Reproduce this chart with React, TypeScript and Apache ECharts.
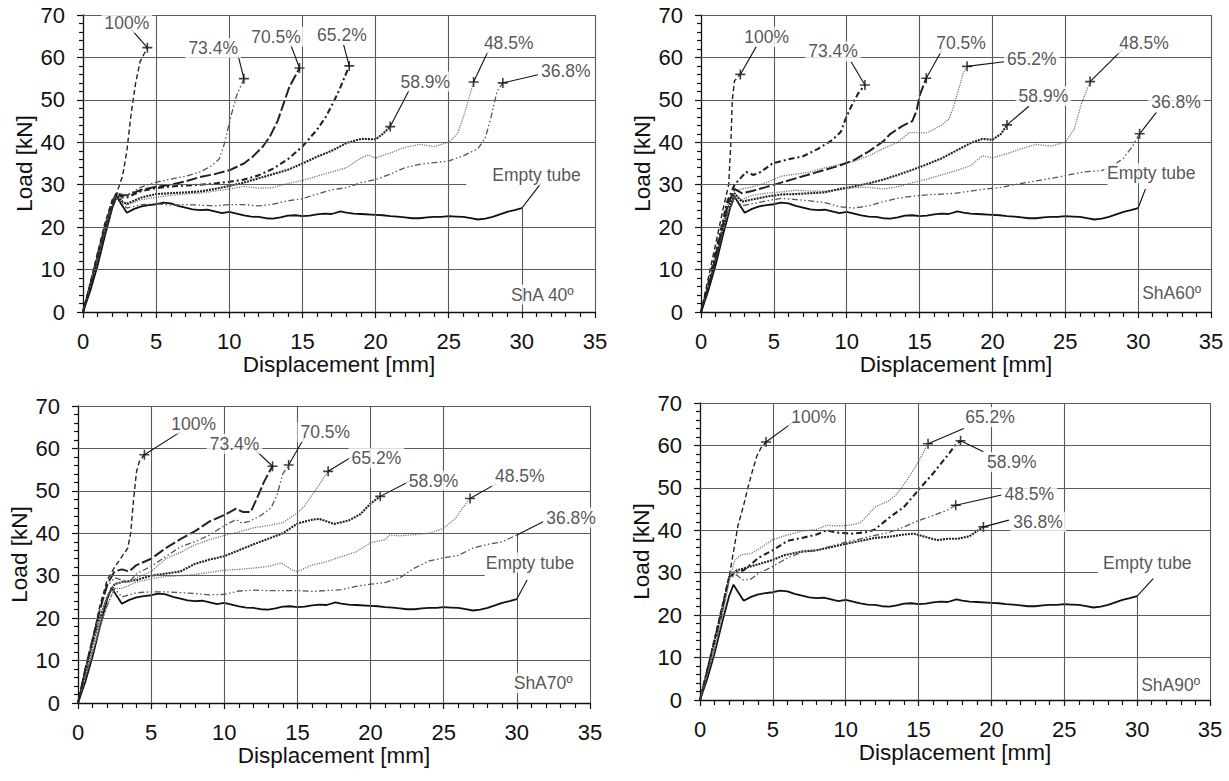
import React, { useEffect, useRef } from "react";
import * as echarts from "echarts";

type Pt = [number, number];

// ---------------- DATA ----------------
const X_RANGE = [0, 35];
const X_STEP = 5;
const Y_RANGE = [0, 70];
const Y_STEP = 10;
const PANEL_TITLES = ["ShA 40º", "ShA60º", "ShA70º", "ShA90º"];
const SERIES_NAMES = ["Empty tube", "36.8%", "48.5%", "58.9%", "65.2%", "70.5%", "73.4%", "100%"];

const EMPTY_TUBE: Pt[] = [[0,0],[0.5,5],[1,11],[1.5,18],[2,24.5],[2.3,27.2],[2.6,25.5],[3,23.4],[3.5,24.3],[4,24.9],[4.5,25.2],[5,25.4],[5.5,25.8],[6,25.6],[6.5,25],[7,24.6],[7.5,24.2],[8,24],[8.5,24.1],[9,23.7],[9.5,23.3],[10,23.6],[10.5,23.2],[11,22.8],[11.5,22.5],[12,22.4],[12.5,22.1],[13,22],[13.5,22.3],[14,22.7],[14.5,22.8],[15,22.6],[15.5,22.7],[16,23],[16.5,23.2],[17,23.1],[17.6,23.7],[18,23.4],[18.5,23.2],[19,23.1],[20,22.9],[20.5,22.8],[21,22.6],[21.5,22.5],[22,22.3],[22.5,22.1],[23,22.1],[23.5,22.3],[24,22.4],[24.5,22.4],[25,22.6],[25.5,22.5],[26,22.4],[26.5,22.1],[27,21.8],[27.5,22],[28,22.4],[28.5,23],[29,23.6],[29.5,24],[30,24.5]];

// ShA 40º
const SHA40_368: Pt[] = [[0,0],[0.5,6],[1,12.5],[1.5,19],[2,25],[2.3,27],[2.7,25.5],[3,24.5],[4,25.3],[5,25.5],[6,25.2],[7,25.3],[8,25.2],[9,25],[10,25.3],[11,25.3],[12,25],[13,25.4],[14,26.2],[15,26.7],[16,27.8],[17,28.8],[18,29.3],[19,30.5],[20,31.2],[21,32.5],[22,34],[23,34.8],[24,35.2],[25,35.6],[26,36.8],[27,38.5],[27.5,41],[27.9,46],[28.3,52],[28.7,54]];
const SHA40_485: Pt[] = [[0,0],[0.5,6],[1,12.5],[1.5,19],[2,25],[2.3,27.5],[2.7,26],[3,25.2],[4,26.5],[5,27],[6,27.5],[7,27.8],[8,28],[9,28.5],[10,29],[11,29.6],[12,29.2],[13,29.3],[14,30.3],[15,31],[16,32],[17,33],[18,34],[19,36.3],[19.5,37],[20,36.3],[21,37.5],[22,38.8],[23,39.5],[24,39],[25,40],[25.6,42],[26.1,47],[26.7,54.2]];
const SHA40_589: Pt[] = [[0,0],[0.5,6],[1,13],[1.5,19.5],[2,25],[2.3,27.5],[2.7,26],[3,25.5],[4,27],[5,27.8],[6,28],[7,28.2],[8,28.4],[9,29],[10,29.7],[11,30.5],[12,31.5],[13,32.5],[14,33.5],[15,35],[16,36.6],[17,38],[18,39.8],[19,40.8],[20,40.7],[20.5,42],[21,43.7]];
const SHA40_652: Pt[] = [[0,0],[0.5,6],[1,13],[1.5,20],[2,25.5],[2.3,28],[2.7,27],[3,27],[4,28.5],[5,29.2],[6,29.6],[7,29.8],[8,30],[9,30.3],[10,30.7],[11,31.2],[12,32.2],[13,33.8],[14,36],[15,39],[16,43],[16.6,46],[17.2,50],[17.6,53],[18.2,58]];
const SHA40_705: Pt[] = [[0,0],[0.5,6.5],[1,13.5],[1.5,20],[2,26],[2.3,28],[2.7,27.5],[3,27.5],[4,28.8],[5,29.5],[6,30],[7,30.8],[8,31.8],[9,32.5],[10,33.4],[11,35],[11.6,36.6],[12.3,39],[12.8,41.5],[13.3,45],[13.7,49],[14.1,53],[14.8,57.5]];
const SHA40_734: Pt[] = [[0,0],[0.5,6.5],[1,13.5],[1.5,20],[2,26],[2.3,28],[2.7,27.8],[3,27.5],[4,29.5],[5,30.6],[6,31.3],[7,32],[8,33],[8.8,34.5],[9.3,36],[9.7,40],[10.1,46],[10.5,51],[11,55]];
const SHA40_100: Pt[] = [[0,0],[0.5,7],[1,14],[1.5,21],[2,26.5],[2.3,28],[2.7,32],[3,38],[3.3,47],[3.6,54],[3.9,59],[4.4,62.3]];

// ShA 60º
const SHA60_368: Pt[] = [[0,0],[0.6,7],[1.2,15],[1.8,23],[2.3,27],[2.8,25],[3.5,25.5],[4.5,26.2],[5.5,26.8],[6.5,26.5],[7.5,26.2],[8.5,25.8],[9.5,24.8],[10.5,24.5],[11.5,25],[12.5,26],[13.5,26.8],[14.5,27.3],[15.5,27.6],[16.5,27.8],[17.5,28],[18.5,28.5],[19.5,29],[20.5,29.3],[21.5,30],[22.5,30.6],[23.5,31.2],[24.5,31.8],[25.5,32.5],[26.5,33.1],[27.5,33.3],[28.3,34.5],[29,36.3],[29.6,39],[30.1,42]];
const SHA60_485: Pt[] = [[0,0],[0.6,7],[1.2,15],[1.8,23],[2.3,27.5],[2.8,26.5],[3.5,27.5],[4.5,28],[5.5,28.3],[6.5,28.7],[7.5,28.5],[8.5,28.5],[9.5,28.8],[10.5,29.3],[11.5,29.4],[12.5,29],[13.5,29.5],[14.5,30.5],[15.5,31.3],[16.5,32.3],[17.5,33.3],[18.5,34.5],[19.3,36.8],[20,36.3],[21,37.3],[22,38.5],[23,39.5],[24,39.1],[25,40],[25.6,43],[26.1,49],[26.7,54.3]];
const SHA60_589: Pt[] = [[0,0],[0.6,7],[1.2,15],[1.8,24],[2.3,28],[2.8,26],[3.5,26.5],[4.5,27.2],[5.5,27.7],[6.5,27.8],[7.5,28],[8.5,28.2],[9.5,29],[10.5,29.6],[11.5,30.3],[12.5,31.2],[13.5,32.3],[14.5,33.5],[15.5,34.8],[16.5,36.2],[17.5,38],[18.5,39.8],[19.3,40.8],[20,40.6],[20.6,42],[21,44.1]];
const SHA60_652: Pt[] = [[0,0],[0.6,8],[1.2,17],[1.8,25],[2.3,28.5],[2.8,29],[3.5,29.5],[4.5,30.5],[5.5,32],[6.5,32.5],[7.5,33],[8.5,34],[9.5,34.8],[10.5,35.5],[11.5,36.8],[12.5,38.5],[13.5,40],[14.3,42.3],[15.5,42.2],[16.5,44],[17,45.5],[17.3,48],[17.6,51.6],[18,56.3],[18.26,57.9]];
const SHA60_705: Pt[] = [[0,0],[0.6,7],[1.2,16],[1.8,25],[2.3,29],[2.8,28],[3.5,28.5],[4.5,29.5],[5.5,30.5],[6.5,31.5],[7.5,32.5],[8.5,33.5],[9.5,34.5],[10.5,35.8],[11.5,37.8],[12.5,40.2],[13,42],[13.8,43.8],[14.5,45],[14.8,47.5],[15,51],[15.46,55.1]];
const SHA60_734: Pt[] = [[0,0],[0.6,8],[1.2,17],[1.8,26],[2.3,30],[2.7,31.5],[3.1,33],[3.6,32.3],[4.1,33],[4.9,35],[6,36],[7,36.7],[8,38.4],[9,40.5],[9.6,42.5],[9.9,45.3],[10.3,48.4],[10.8,51.6],[11.25,53.5]];
const SHA60_100: Pt[] = [[0,0],[0.5,8],[1,16],[1.5,24],[1.9,30],[2.05,40],[2.15,50],[2.3,54.5],[2.7,56]];

// ShA 70º
const SHA70_368: Pt[] = [[0,0],[0.5,6],[1,12],[1.5,18],[2,23],[2.5,27],[3,25],[3.5,25.5],[4,26],[5,26.2],[6,26.2],[7,26],[8,25.8],[9,25.5],[10,25.6],[11,26.4],[12,26.6],[13,26.5],[14,26.5],[15,26.5],[16,26.3],[17,26.5],[18,26.7],[19,27.5],[20,28],[21,28.4],[22,29.5],[23,31.8],[24,33.5],[25,34.2],[26,34.8],[27,36.5],[28,37.4],[29,38],[30,39.6]];
const SHA70_485: Pt[] = [[0,0],[0.5,6],[1,12],[1.5,18],[2,23],[2.5,27],[3,27],[4,28.5],[5,29.3],[6,29.8],[7,30],[8,30.3],[9,30.8],[10,31.3],[11,31.5],[12,31.8],[13,32.2],[13.9,33],[14.6,31.4],[15,31],[16,32.5],[17,33.3],[18,34.5],[19,35.6],[20,37.8],[21,38.5],[21.3,39.6],[22,39.4],[23,39.7],[24,40],[25,41.2],[25.8,43.5],[26.3,46],[26.8,48.2]];
const SHA70_589: Pt[] = [[0,0],[0.5,7],[1,14],[1.5,20],[2,25],[2.5,28],[3,28.5],[4,29],[5,30],[6,30.5],[7,31],[8,32.8],[9,33.8],[10,34.6],[11,36],[12,37.4],[13,38.7],[14,40],[15,42.3],[16,43.2],[16.5,43.4],[17.5,42.2],[18.5,43],[19.3,44.5],[20,47],[20.66,48.7]];
const SHA70_652: Pt[] = [[0,0],[0.5,7],[1,14],[1.5,20],[2,25],[2.5,28],[3,28.5],[3.5,28.5],[4,29.5],[5,31],[6,34],[7,35.5],[8,37.3],[9,38.5],[10,39.5],[11,40.3],[12,41.3],[13,41.8],[14,42.5],[15,44.8],[15.5,46.5],[16,49],[16.5,51.5],[17.1,54.6]];
const SHA70_705: Pt[] = [[0,0],[0.5,8],[1,15],[1.5,22],[2,27.5],[2.5,29.5],[3,29],[3.5,28.5],[4,30.5],[5,32.2],[6,34.5],[7,36.8],[8,38],[9,39.6],[10,41.8],[10.8,43.2],[11.2,42.4],[11.7,42.8],[12.5,44.2],[13.2,46],[13.6,49],[14,54],[14.4,56.1]];
const SHA70_734: Pt[] = [[0,0],[0.5,8],[1,15],[1.5,22],[2,28],[2.5,31],[3,31.5],[3.5,31],[4,32.5],[5,34],[6,36.5],[7,38.6],[8,40.5],[9,42.8],[10,44.3],[10.8,45.8],[11.3,45],[11.8,45],[12.2,48],[12.7,52],[13,54],[13.3,55.8]];
const SHA70_100: Pt[] = [[0,0],[0.5,8],[1,15],[1.5,23],[2,29],[2.5,32],[3,34.5],[3.4,36.5],[3.6,40],[3.8,48],[4,54.5],[4.2,57],[4.54,58.5]];

// ShA 90º
const SHA90_368: Pt[] = [[0,0],[0.5,7],[1,14],[1.5,21],[2,29],[2.5,30.5],[3,31],[3.5,31.5],[4,32],[5,33],[5.75,34.1],[7,35],[8,35.3],[8.7,35.8],[10,36.8],[11,37.5],[12,38.2],[13,38.5],[14,39],[14.7,39.2],[15.5,38.4],[16.3,37.7],[17,38],[17.7,38],[18.5,38.6],[19,39.8],[19.45,40.8]];
const SHA90_485: Pt[] = [[0,0],[0.5,6],[1,12],[1.5,20],[2,28.5],[2.5,29.5],[3,28.2],[3.5,28.5],[4,29.8],[5,31.5],[6,33.5],[7,34.8],[8,35.2],[9,36.3],[10,37.2],[11,38],[12,38.8],[13,39.5],[14,40.8],[15,42.3],[16,43.5],[17,44.8],[17.55,45.9]];
const SHA90_589: Pt[] = [[0,0],[0.5,7],[1,14],[1.5,21],[2,29],[2.5,30],[3,30.6],[3.5,32],[4,33.5],[5,35.3],[6,37.5],[7,38.2],[8,39],[8.7,40],[9.5,39.4],[10.5,39.2],[11.5,39.6],[12,40.2],[13,43],[14,45.5],[15,49.5],[15.5,51.5],[16,53.4],[16.6,56],[17.1,58.1],[17.5,60],[17.88,61.1]];
const SHA90_652: Pt[] = [[0,0],[0.5,6],[1,12],[1.5,19],[2,28],[2.4,33],[2.8,34.2],[3.5,34.5],[4,35.5],[5,37.8],[6,38.9],[7,39.8],[8,40.2],[8.7,41.2],[9.5,41],[10.3,41.2],[11,41.8],[11.5,43.5],[12,45.5],[13,47],[13.5,48.5],[14.2,51.8],[14.7,54.5],[15.2,57.5],[15.65,60.4]];
const SHA90_100: Pt[] = [[0,0],[0.5,7],[1,14.5],[1.5,22],[2,29],[2.3,35],[2.6,41],[3,46],[3.3,50.2],[3.6,54],[3.9,57.5],[4.2,59.5],[4.53,60.8]];

const PANEL_DATA: Record<string, Pt[]>[] = [
  { "Empty tube": EMPTY_TUBE, "36.8%": SHA40_368, "48.5%": SHA40_485, "58.9%": SHA40_589, "65.2%": SHA40_652, "70.5%": SHA40_705, "73.4%": SHA40_734, "100%": SHA40_100 },
  { "Empty tube": EMPTY_TUBE, "36.8%": SHA60_368, "48.5%": SHA60_485, "58.9%": SHA60_589, "65.2%": SHA60_652, "70.5%": SHA60_705, "73.4%": SHA60_734, "100%": SHA60_100 },
  { "Empty tube": EMPTY_TUBE, "36.8%": SHA70_368, "48.5%": SHA70_485, "58.9%": SHA70_589, "65.2%": SHA70_652, "70.5%": SHA70_705, "73.4%": SHA70_734, "100%": SHA70_100 },
  { "Empty tube": EMPTY_TUBE, "36.8%": SHA90_368, "48.5%": SHA90_485, "58.9%": SHA90_589, "65.2%": SHA90_652, "100%": SHA90_100 },
];

// ---------------- LAYOUT & STYLE ----------------
const FONT = "'Liberation Sans', Arial, Helvetica, sans-serif";
const GRIDS = [
  { left: 83, top: 15, width: 512, height: 297 },
  { left: 701, top: 15, width: 510, height: 297 },
  { left: 78, top: 406, width: 512, height: 297 },
  { left: 700, top: 403, width: 510, height: 297 },
];
// where the 30 mm vertical grid line stops and the 30 kN horizontal line stops
const V30_TOP = [24.5, 42, 40, 24.5];
const H30_RIGHT = [26.2, 27.9, 27.8, 27.3];

const STYLES: Record<string, any> = {
  solid: { type: "solid", width: 1.8, color: "#111" },
  dash: { type: [5, 3], width: 1.4, color: "#222" },
  longdash: { type: [11, 3], width: 2, color: "#222" },
  dashdot: { type: [6, 3, 2, 3], width: 2.1, color: "#222" },
  dashdotdot: { type: [6, 2.5, 1.5, 2.5, 1.5, 2.5], width: 1.3, color: "#555" },
  densedot: { type: [2, 1], width: 2.1, color: "#222" },
  dot: { type: [1.2, 1.2], width: 1.3, color: "#777" },
};
const PANEL_STYLES: Record<string, string>[] = [
  { "Empty tube": "solid", "36.8%": "dashdotdot", "48.5%": "dot", "58.9%": "densedot", "65.2%": "dashdot", "70.5%": "longdash", "73.4%": "dashdotdot", "100%": "dash" },
  { "Empty tube": "solid", "36.8%": "dashdotdot", "48.5%": "dot", "58.9%": "densedot", "65.2%": "dot", "70.5%": "longdash", "73.4%": "dashdot", "100%": "dash" },
  { "Empty tube": "solid", "36.8%": "dashdotdot", "48.5%": "dot", "58.9%": "densedot", "65.2%": "dot", "70.5%": "dashdotdot", "73.4%": "longdash", "100%": "dash" },
  { "Empty tube": "solid", "36.8%": "densedot", "48.5%": "dashdotdot", "58.9%": "dashdot", "65.2%": "dot", "100%": "dash" },
];
const NO_MARKER = [["Empty tube"], ["Empty tube"], ["Empty tube", "36.8%"], ["Empty tube"]];

// label anchor (data coords) and leader start
const LABELS: { name: string; at: Pt; from?: Pt }[][] = [
  [
    { name: "100%", at: [3.0, 68.2], from: [3.3, 66.6] },
    { name: "73.4%", at: [8.9, 62.2], from: [10.6, 60.5] },
    { name: "70.5%", at: [13.2, 64.9], from: [14.2, 63.0] },
    { name: "65.2%", at: [17.7, 65.3], from: [17.8, 63.2] },
    { name: "58.9%", at: [23.4, 54.3], from: [22.3, 52.3] },
    { name: "48.5%", at: [29.1, 63.3], from: [27.7, 61.5] },
    { name: "36.8%", at: [33.0, 56.9], from: [31.1, 55.9] },
    { name: "Empty tube", at: [31.0, 32.2], from: [31.3, 30.3] },
  ],
  [
    { name: "100%", at: [4.5, 64.9], from: [3.8, 62.6] },
    { name: "73.4%", at: [9.06, 61.4], from: [10.3, 59] },
    { name: "70.5%", at: [17.85, 63.3], from: [16.55, 61.8] },
    { name: "65.2%", at: [22.7, 59.6], from: [20.8, 59] },
    { name: "58.9%", at: [23.5, 50.9], from: [22.5, 48.5] },
    { name: "48.5%", at: [30.4, 63.3], from: [28.9, 61.8] },
    { name: "36.8%", at: [32.6, 49.4], from: [31.3, 47.3] },
    { name: "Empty tube", at: [30.9, 32.7], from: [30.5, 29] },
  ],
  [
    { name: "100%", at: [7.9, 65.8], from: [7.0, 63.9] },
    { name: "73.4%", at: [10.7, 61.1], from: [12, 60] },
    { name: "70.5%", at: [16.9, 63.9], from: [15.5, 62.7] },
    { name: "65.2%", at: [20.4, 57.8], from: [18.7, 58] },
    { name: "58.9%", at: [24.3, 52.4], from: [22.8, 52.5] },
    { name: "48.5%", at: [30.2, 53.4], from: [28.6, 51.7] },
    { name: "36.8%", at: [33.7, 43.7], from: [31.8, 42.7] },
    { name: "Empty tube", at: [30.9, 33.1], from: [30.7, 29] },
  ],
  [
    { name: "100%", at: [7.8, 66.7], from: [6.4, 65.5] },
    { name: "65.2%", at: [19.9, 66.7], from: [18.1, 64] },
    { name: "58.9%", at: [21.4, 56.1], from: [19.45, 58.5] },
    { name: "48.5%", at: [22.6, 48.5], from: [20.7, 48.3] },
    { name: "36.8%", at: [23.2, 42], from: [21.2, 42.4] },
    { name: "Empty tube", at: [30.7, 32.3], from: [31.1, 28.6] },
  ],
];
const TITLE_AT: Pt[] = [[31.4, 4.1], [32.3, 4.5], [31.8, 4.7], [32.3, 3.5]];

const PLUS = "path://M4.2,0H5.8V4.2H10V5.8H5.8V10H4.2V5.8H0V4.2H4.2Z";

function buildOption() {
  const grid = GRIDS.map((g) => ({ ...g, containLabel: false }));
  const xAxis = GRIDS.map((_, i) => ({
    type: "value", gridIndex: i, min: X_RANGE[0], max: X_RANGE[1], interval: X_STEP,
    name: "Displacement [mm]", nameLocation: "middle", nameGap: 36,
    nameTextStyle: { fontSize: 22.5, color: "#111", fontFamily: FONT },
    axisLine: { show: true, onZero: false, lineStyle: { color: "#111", width: 1.3 } },
    axisTick: { show: true, inside: false, length: 6, lineStyle: { color: "#111", width: 1.2 } },
    minorTick: { show: true, splitNumber: 5, length: 5, lineStyle: { color: "#111", width: 1.2 } },
    axisLabel: { fontSize: 22, color: "#111", margin: 18, fontFamily: FONT },
    splitLine: { show: false },
  }));
  const yAxis = GRIDS.map((_, i) => ({
    type: "value", gridIndex: i, min: Y_RANGE[0], max: Y_RANGE[1], interval: Y_STEP,
    name: "Load [kN]", nameLocation: "middle", nameGap: 47, nameRotate: 90,
    nameTextStyle: { fontSize: 22.5, color: "#111", fontFamily: FONT },
    axisLine: { show: true, onZero: false, lineStyle: { color: "#111", width: 1.3 } },
    axisTick: { show: true, inside: false, length: 6, lineStyle: { color: "#111", width: 1.2 } },
    minorTick: { show: true, splitNumber: 5, length: 4, lineStyle: { color: "#111", width: 1.2 } },
    axisLabel: { fontSize: 22, color: "#111", margin: 18, fontFamily: FONT },
    splitLine: { show: false },
  }));

  const series: any[] = [];
  GRIDS.forEach((_, i) => {
    // grid lines
    const segs: any[] = [];
    for (let x = X_RANGE[0] + X_STEP; x <= X_RANGE[1]; x += X_STEP) {
      segs.push([{ coord: [x, Y_RANGE[0]] }, { coord: [x, x === 30 ? V30_TOP[i] : Y_RANGE[1]] }]);
    }
    for (let y = Y_RANGE[0] + Y_STEP; y <= Y_RANGE[1]; y += Y_STEP) {
      segs.push([{ coord: [X_RANGE[0], y] }, { coord: [y === 30 ? H30_RIGHT[i] : X_RANGE[1], y] }]);
    }
    series.push({
      type: "line", xAxisIndex: i, yAxisIndex: i, data: [], silent: true, z: 1,
      markLine: { silent: true, symbol: ["none", "none"], label: { show: false },
        lineStyle: { color: "#5a5a5a", width: 1.1, type: "solid" }, data: segs, animation: false },
    });

    const data = PANEL_DATA[i];
    SERIES_NAMES.forEach((name) => {
      if (!data[name]) return;
      series.push({
        type: "line", name, xAxisIndex: i, yAxisIndex: i, data: data[name],
        showSymbol: false, symbol: "none", silent: true, z: 3,
        lineStyle: { ...STYLES[PANEL_STYLES[i][name]] },
      });
    });

    // end markers + leader lines
    const ends = SERIES_NAMES.filter((n) => data[n] && !NO_MARKER[i].includes(n)).map((n) => data[n][data[n].length - 1]);
    const leaders = LABELS[i].filter((l) => l.from).map((l) => {
      const d = data[l.name];
      return [{ coord: l.from }, { coord: d[d.length - 1] }];
    });
    series.push({
      type: "scatter", xAxisIndex: i, yAxisIndex: i, data: ends, symbol: PLUS, symbolSize: 10,
      itemStyle: { color: "#111" }, silent: true, z: 4,
      markLine: { silent: true, symbol: ["none", "none"], label: { show: false },
        lineStyle: { color: "#111", width: 1.1, type: "solid" }, data: leaders, animation: false },
    });

    // labels
    const labelData = LABELS[i].map((l) => ({ name: l.name, value: l.at }));
    labelData.push({ name: PANEL_TITLES[i], value: TITLE_AT[i] });
    series.push({
      type: "scatter", xAxisIndex: i, yAxisIndex: i, data: labelData, symbolSize: 1,
      itemStyle: { color: "rgba(0,0,0,0)" }, silent: true, z: 6,
      label: { show: true, position: "inside", formatter: "{b}", fontSize: 17.5, color: "#2a2a2a",
        fontFamily: FONT, backgroundColor: "#fff", padding: [1, 3] },
    });
  });

  return {
    animation: false,
    backgroundColor: "#fff",
    textStyle: { fontFamily: FONT },
    grid, xAxis, yAxis, series,
  };
}

export default function App() {
  const ref = useRef<HTMLDivElement>(null);
  useEffect(() => {
    if (!ref.current) return;
    const chart = echarts.init(ref.current, undefined, { renderer: "svg" });
    chart.setOption(buildOption() as any);
    return () => chart.dispose();
  }, []);
  return <div ref={ref} style={{ position: "absolute", left: 0, top: 0, width: 1229, height: 781 }} />;
}
